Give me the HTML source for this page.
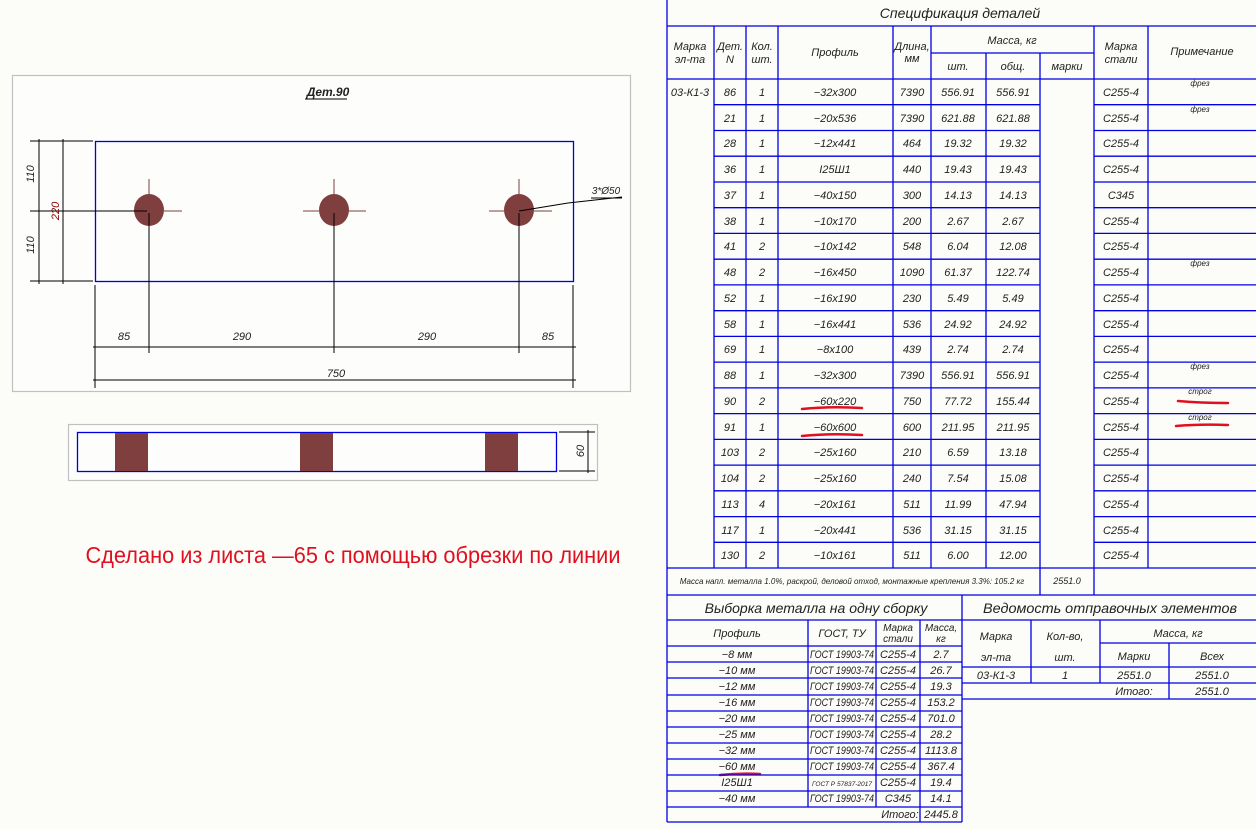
<!DOCTYPE html>
<html><head><meta charset="utf-8"><style>
html,body{margin:0;padding:0;background:#fcfcf8;}
svg{display:block}
text{font-family:"Liberation Sans","DejaVu Sans",sans-serif;font-style:italic;fill:#222;font-size:11px;text-anchor:middle}
.b{stroke:#0000e6;stroke-width:1.3;fill:none}
.k{stroke:#000;stroke-width:1;fill:none}
.r{stroke:#e01020;stroke-width:2.5;fill:none;stroke-linecap:round}
.s{font-size:8px}
.h{font-size:14px}
</style></head><body>
<svg width="1256" height="829" viewBox="0 0 1256 829" xmlns="http://www.w3.org/2000/svg">
<rect x="12.5" y="75.5" width="618" height="316" fill="#fdfdfb" stroke="#c0c0c0" stroke-width="1.2"/>
<text x="328" y="96" style="font-size:12px;font-weight:bold">Дет.90</text>
<line x1="305" y1="99" x2="347" y2="99" class="k"/>
<rect x="95.5" y="141.5" width="478" height="140" class="b"/>
<g fill="#7f3f3f">
<ellipse cx="149" cy="210" rx="15" ry="16"/><ellipse cx="334" cy="210" rx="15" ry="16"/><ellipse cx="519" cy="210" rx="15" ry="16"/>
</g>
<g stroke="#7f3f3f" stroke-width="1">
<line x1="149" y1="179" x2="149" y2="194"/><line x1="164" y1="211" x2="182" y2="211"/>
<line x1="334" y1="179" x2="334" y2="194"/><line x1="303" y1="211" x2="319" y2="211"/><line x1="349" y1="211" x2="366" y2="211"/>
<line x1="519" y1="179" x2="519" y2="194"/><line x1="489" y1="211" x2="504" y2="211"/><line x1="534" y1="211" x2="552" y2="211"/>
</g>
<g class="k">
<line x1="30" y1="141" x2="93" y2="141"/><line x1="30" y1="281" x2="93" y2="281"/><line x1="30" y1="211" x2="147" y2="211"/>
<line x1="39" y1="139" x2="39" y2="284"/><line x1="63" y1="139" x2="63" y2="284"/>
<line x1="149" y1="213" x2="149" y2="353"/><line x1="334" y1="213" x2="334" y2="353"/><line x1="519" y1="213" x2="519" y2="353"/>
<line x1="95" y1="285" x2="95" y2="388"/><line x1="573" y1="285" x2="573" y2="388"/>
<line x1="93" y1="347" x2="576" y2="347"/><line x1="93" y1="380" x2="576" y2="380"/>
<line x1="519" y1="211" x2="568" y2="203"/><line x1="568" y1="203" x2="622" y2="197"/><line x1="591" y1="198" x2="622" y2="198"/>
</g>
<text x="124" y="340">85</text><text x="242" y="340">290</text><text x="427" y="340">290</text><text x="548" y="340">85</text>
<text x="336" y="377">750</text>
<text x="606" y="194" style="font-size:10px">3*Ø50</text>
<text transform="translate(34,174) rotate(-90)">110</text>
<text transform="translate(34,245) rotate(-90)">110</text>
<text transform="translate(59,211) rotate(-90)" style="fill:#800">220</text>

<rect x="68.5" y="424.5" width="529" height="56" fill="#fdfdfb" stroke="#c0c0c0" stroke-width="1.2"/>
<rect x="77.5" y="432.5" width="479" height="39" class="b"/>
<g fill="#7f3f3f"><rect x="115" y="433" width="33" height="38"/><rect x="300" y="433" width="33" height="38"/><rect x="485" y="433" width="33" height="38"/></g>
<g class="k"><line x1="559" y1="432" x2="595" y2="432"/><line x1="559" y1="471" x2="595" y2="471"/><line x1="588" y1="430" x2="588" y2="473"/></g>
<text transform="translate(584,451) rotate(-90)">60</text>

<text x="353" y="563" style="fill:#e01020;font-size:23px;font-style:normal" textLength="535" lengthAdjust="spacingAndGlyphs">Сделано из листа —65 с помощью обрезки по линии</text>

<g class="b">
<line x1="667" y1="0" x2="667" y2="822"/>
<line x1="667" y1="26" x2="1256" y2="26"/>
<line x1="667" y1="79" x2="1256" y2="79"/>
<line x1="931" y1="53" x2="1094" y2="53"/>
<line x1="714" y1="26" x2="714" y2="568"/><line x1="746" y1="26" x2="746" y2="568"/><line x1="778" y1="26" x2="778" y2="568"/>
<line x1="893" y1="26" x2="893" y2="568"/><line x1="931" y1="26" x2="931" y2="568"/><line x1="986" y1="53" x2="986" y2="568"/>
<line x1="1040" y1="53" x2="1040" y2="595"/><line x1="1094" y1="26" x2="1094" y2="595"/><line x1="1148" y1="26" x2="1148" y2="568"/>
<path d="M714 104.7H1040M714 130.5H1040M714 156.2H1040M714 182H1040M714 207.7H1040M714 233.4H1040M714 259.2H1040M714 284.9H1040M714 310.7H1040M714 336.4H1040M714 362.1H1040M714 387.9H1040M714 413.6H1040M714 439.4H1040M714 465.1H1040M714 490.8H1040M714 516.6H1040M714 542.3H1040"/>
<path d="M1094 104.7H1256M1094 130.5H1256M1094 156.2H1256M1094 182H1256M1094 207.7H1256M1094 233.4H1256M1094 259.2H1256M1094 284.9H1256M1094 310.7H1256M1094 336.4H1256M1094 362.1H1256M1094 387.9H1256M1094 413.6H1256M1094 439.4H1256M1094 465.1H1256M1094 490.8H1256M1094 516.6H1256M1094 542.3H1256"/>
<line x1="667" y1="568" x2="1256" y2="568"/>
<line x1="667" y1="595" x2="1256" y2="595"/>
</g>
<text x="960" y="18" class="h">Спецификация деталей</text>
<text x="690" y="50">Марка</text><text x="690" y="63">эл-та</text>
<text x="730" y="50">Дет.</text><text x="730" y="63">N</text>
<text x="762" y="50">Кол.</text><text x="762" y="63">шт.</text>
<text x="835" y="56">Профиль</text>
<text x="912" y="50">Длина,</text><text x="912" y="62">мм</text>
<text x="1012" y="44">Масса, кг</text>
<text x="958" y="70">шт.</text><text x="1013" y="70">общ.</text><text x="1067" y="70">марки</text>
<text x="1121" y="50">Марка</text><text x="1121" y="63">стали</text>
<text x="1202" y="55">Примечание</text>
<text x="690" y="96">03-К1-3</text>
<g>
<text x="730" y="96">86</text><text x="762" y="96">1</text><text x="835" y="96">−32x300</text><text x="912" y="96">7390</text><text x="958" y="96">556.91</text><text x="1013" y="96">556.91</text><text x="1121" y="96">С255-4</text>
<text x="730" y="122">21</text><text x="762" y="122">1</text><text x="835" y="122">−20x536</text><text x="912" y="122">7390</text><text x="958" y="122">621.88</text><text x="1013" y="122">621.88</text><text x="1121" y="122">С255-4</text>
<text x="730" y="147">28</text><text x="762" y="147">1</text><text x="835" y="147">−12x441</text><text x="912" y="147">464</text><text x="958" y="147">19.32</text><text x="1013" y="147">19.32</text><text x="1121" y="147">С255-4</text>
<text x="730" y="173">36</text><text x="762" y="173">1</text><text x="835" y="173">I25Ш1</text><text x="912" y="173">440</text><text x="958" y="173">19.43</text><text x="1013" y="173">19.43</text><text x="1121" y="173">С255-4</text>
<text x="730" y="199">37</text><text x="762" y="199">1</text><text x="835" y="199">−40x150</text><text x="912" y="199">300</text><text x="958" y="199">14.13</text><text x="1013" y="199">14.13</text><text x="1121" y="199">С345</text>
<text x="730" y="225">38</text><text x="762" y="225">1</text><text x="835" y="225">−10x170</text><text x="912" y="225">200</text><text x="958" y="225">2.67</text><text x="1013" y="225">2.67</text><text x="1121" y="225">С255-4</text>
<text x="730" y="250">41</text><text x="762" y="250">2</text><text x="835" y="250">−10x142</text><text x="912" y="250">548</text><text x="958" y="250">6.04</text><text x="1013" y="250">12.08</text><text x="1121" y="250">С255-4</text>
<text x="730" y="276">48</text><text x="762" y="276">2</text><text x="835" y="276">−16x450</text><text x="912" y="276">1090</text><text x="958" y="276">61.37</text><text x="1013" y="276">122.74</text><text x="1121" y="276">С255-4</text>
<text x="730" y="302">52</text><text x="762" y="302">1</text><text x="835" y="302">−16x190</text><text x="912" y="302">230</text><text x="958" y="302">5.49</text><text x="1013" y="302">5.49</text><text x="1121" y="302">С255-4</text>
<text x="730" y="328">58</text><text x="762" y="328">1</text><text x="835" y="328">−16x441</text><text x="912" y="328">536</text><text x="958" y="328">24.92</text><text x="1013" y="328">24.92</text><text x="1121" y="328">С255-4</text>
<text x="730" y="353">69</text><text x="762" y="353">1</text><text x="835" y="353">−8x100</text><text x="912" y="353">439</text><text x="958" y="353">2.74</text><text x="1013" y="353">2.74</text><text x="1121" y="353">С255-4</text>
<text x="730" y="379">88</text><text x="762" y="379">1</text><text x="835" y="379">−32x300</text><text x="912" y="379">7390</text><text x="958" y="379">556.91</text><text x="1013" y="379">556.91</text><text x="1121" y="379">С255-4</text>
<text x="730" y="405">90</text><text x="762" y="405">2</text><text x="835" y="405">−60x220</text><text x="912" y="405">750</text><text x="958" y="405">77.72</text><text x="1013" y="405">155.44</text><text x="1121" y="405">С255-4</text>
<text x="730" y="431">91</text><text x="762" y="431">1</text><text x="835" y="431">−60x600</text><text x="912" y="431">600</text><text x="958" y="431">211.95</text><text x="1013" y="431">211.95</text><text x="1121" y="431">С255-4</text>
<text x="730" y="456">103</text><text x="762" y="456">2</text><text x="835" y="456">−25x160</text><text x="912" y="456">210</text><text x="958" y="456">6.59</text><text x="1013" y="456">13.18</text><text x="1121" y="456">С255-4</text>
<text x="730" y="482">104</text><text x="762" y="482">2</text><text x="835" y="482">−25x160</text><text x="912" y="482">240</text><text x="958" y="482">7.54</text><text x="1013" y="482">15.08</text><text x="1121" y="482">С255-4</text>
<text x="730" y="508">113</text><text x="762" y="508">4</text><text x="835" y="508">−20x161</text><text x="912" y="508">511</text><text x="958" y="508">11.99</text><text x="1013" y="508">47.94</text><text x="1121" y="508">С255-4</text>
<text x="730" y="534">117</text><text x="762" y="534">1</text><text x="835" y="534">−20x441</text><text x="912" y="534">536</text><text x="958" y="534">31.15</text><text x="1013" y="534">31.15</text><text x="1121" y="534">С255-4</text>
<text x="730" y="559">130</text><text x="762" y="559">2</text><text x="835" y="559">−10x161</text><text x="912" y="559">511</text><text x="958" y="559">6.00</text><text x="1013" y="559">12.00</text><text x="1121" y="559">С255-4</text>
</g>
<text x="1200" y="86" class="s">фрез</text><text x="1200" y="112" class="s">фрез</text><text x="1200" y="266" class="s">фрез</text><text x="1200" y="369" class="s">фрез</text>
<text x="1200" y="394" class="s">строг</text><text x="1200" y="420" class="s">строг</text>
<path class="r" d="M802 409Q830 406 862 408M802 436Q830 433 862 435M1178 401Q1200 403 1228 403M1176 426Q1200 424 1228 425M720 775Q740 773 760 774"/>
<text x="852" y="584" style="font-size:8px">Масса напл. металла 1.0%, раскрой, деловой отход, монтажные крепления 3.3%:   105.2 кг</text>
<text x="1067" y="584" style="font-size:9px">2551.0</text>

<g class="b">
<line x1="962" y1="595" x2="962" y2="822"/>
<line x1="667" y1="620" x2="962" y2="620"/>
<path d="M667 646H962M667 662H962M667 678H962M667 695H962M667 711H962M667 727H962M667 743H962M667 759H962M667 775H962M667 791H962M667 807H962M667 822H962"/>
<line x1="808" y1="620" x2="808" y2="807"/><line x1="876" y1="620" x2="876" y2="807"/><line x1="920" y1="620" x2="920" y2="822"/>
<line x1="1031" y1="620" x2="1031" y2="683"/><line x1="1100" y1="620" x2="1100" y2="683"/><line x1="1169" y1="643" x2="1169" y2="699"/>
<line x1="962" y1="620" x2="1256" y2="620"/>
<line x1="1100" y1="643" x2="1256" y2="643"/>
<line x1="962" y1="667" x2="1256" y2="667"/>
<line x1="962" y1="683" x2="1256" y2="683"/>
<line x1="962" y1="699" x2="1256" y2="699"/>
</g>
<text x="816" y="613" class="h">Выборка металла на одну сборку</text>
<text x="1110" y="613" class="h" textLength="254" lengthAdjust="spacingAndGlyphs">Ведомость отправочных элементов</text>
<text x="737" y="637">Профиль</text><text x="842" y="637">ГОСТ, ТУ</text>
<text x="898" y="631" style="font-size:10px">Марка</text><text x="898" y="642" style="font-size:10px">стали</text>
<text x="941" y="631" style="font-size:10px">Масса,</text><text x="941" y="642" style="font-size:10px">кг</text>
<g style="font-size:10px">
<text x="737" y="658">−8 мм</text><text x="737" y="674">−10 мм</text><text x="737" y="690">−12 мм</text><text x="737" y="706">−16 мм</text><text x="737" y="722">−20 мм</text><text x="737" y="738">−25 мм</text><text x="737" y="754">−32 мм</text><text x="737" y="770">−60 мм</text><text x="737" y="786">I25Ш1</text><text x="737" y="802">−40 мм</text>
</g>
<g style="font-size:7px">
<text x="842" y="658" textLength="64" lengthAdjust="spacingAndGlyphs">ГОСТ 19903-74</text><text x="842" y="674" textLength="64" lengthAdjust="spacingAndGlyphs">ГОСТ 19903-74</text><text x="842" y="690" textLength="64" lengthAdjust="spacingAndGlyphs">ГОСТ 19903-74</text><text x="842" y="706" textLength="64" lengthAdjust="spacingAndGlyphs">ГОСТ 19903-74</text><text x="842" y="722" textLength="64" lengthAdjust="spacingAndGlyphs">ГОСТ 19903-74</text><text x="842" y="738" textLength="64" lengthAdjust="spacingAndGlyphs">ГОСТ 19903-74</text><text x="842" y="754" textLength="64" lengthAdjust="spacingAndGlyphs">ГОСТ 19903-74</text><text x="842" y="770" textLength="64" lengthAdjust="spacingAndGlyphs">ГОСТ 19903-74</text><text x="842" y="786" style="font-size:6px" textLength="60" lengthAdjust="spacingAndGlyphs">ГОСТ Р 57837-2017</text><text x="842" y="802" textLength="64" lengthAdjust="spacingAndGlyphs">ГОСТ 19903-74</text>
</g>
<g>
<text x="898" y="658">С255-4</text><text x="898" y="674">С255-4</text><text x="898" y="690">С255-4</text><text x="898" y="706">С255-4</text><text x="898" y="722">С255-4</text><text x="898" y="738">С255-4</text><text x="898" y="754">С255-4</text><text x="898" y="770">С255-4</text><text x="898" y="786">С255-4</text><text x="898" y="802">С345</text>
<text x="941" y="658">2.7</text><text x="941" y="674">26.7</text><text x="941" y="690">19.3</text><text x="941" y="706">153.2</text><text x="941" y="722">701.0</text><text x="941" y="738">28.2</text><text x="941" y="754">1113.8</text><text x="941" y="770">367.4</text><text x="941" y="786">19.4</text><text x="941" y="802">14.1</text>
<text x="900" y="818">Итого:</text><text x="941" y="818">2445.8</text>
</g>
<text x="996" y="640">Марка</text><text x="996" y="661">эл-та</text>
<text x="1065" y="640">Кол-во,</text><text x="1065" y="661">шт.</text>
<text x="1178" y="637">Масса, кг</text>
<text x="1134" y="660">Марки</text><text x="1212" y="660">Всех</text>
<text x="996" y="679">03-К1-3</text><text x="1065" y="679">1</text><text x="1134" y="679">2551.0</text><text x="1212" y="679">2551.0</text>
<text x="1134" y="695">Итого:</text><text x="1212" y="695">2551.0</text>
</svg>
</body></html>
